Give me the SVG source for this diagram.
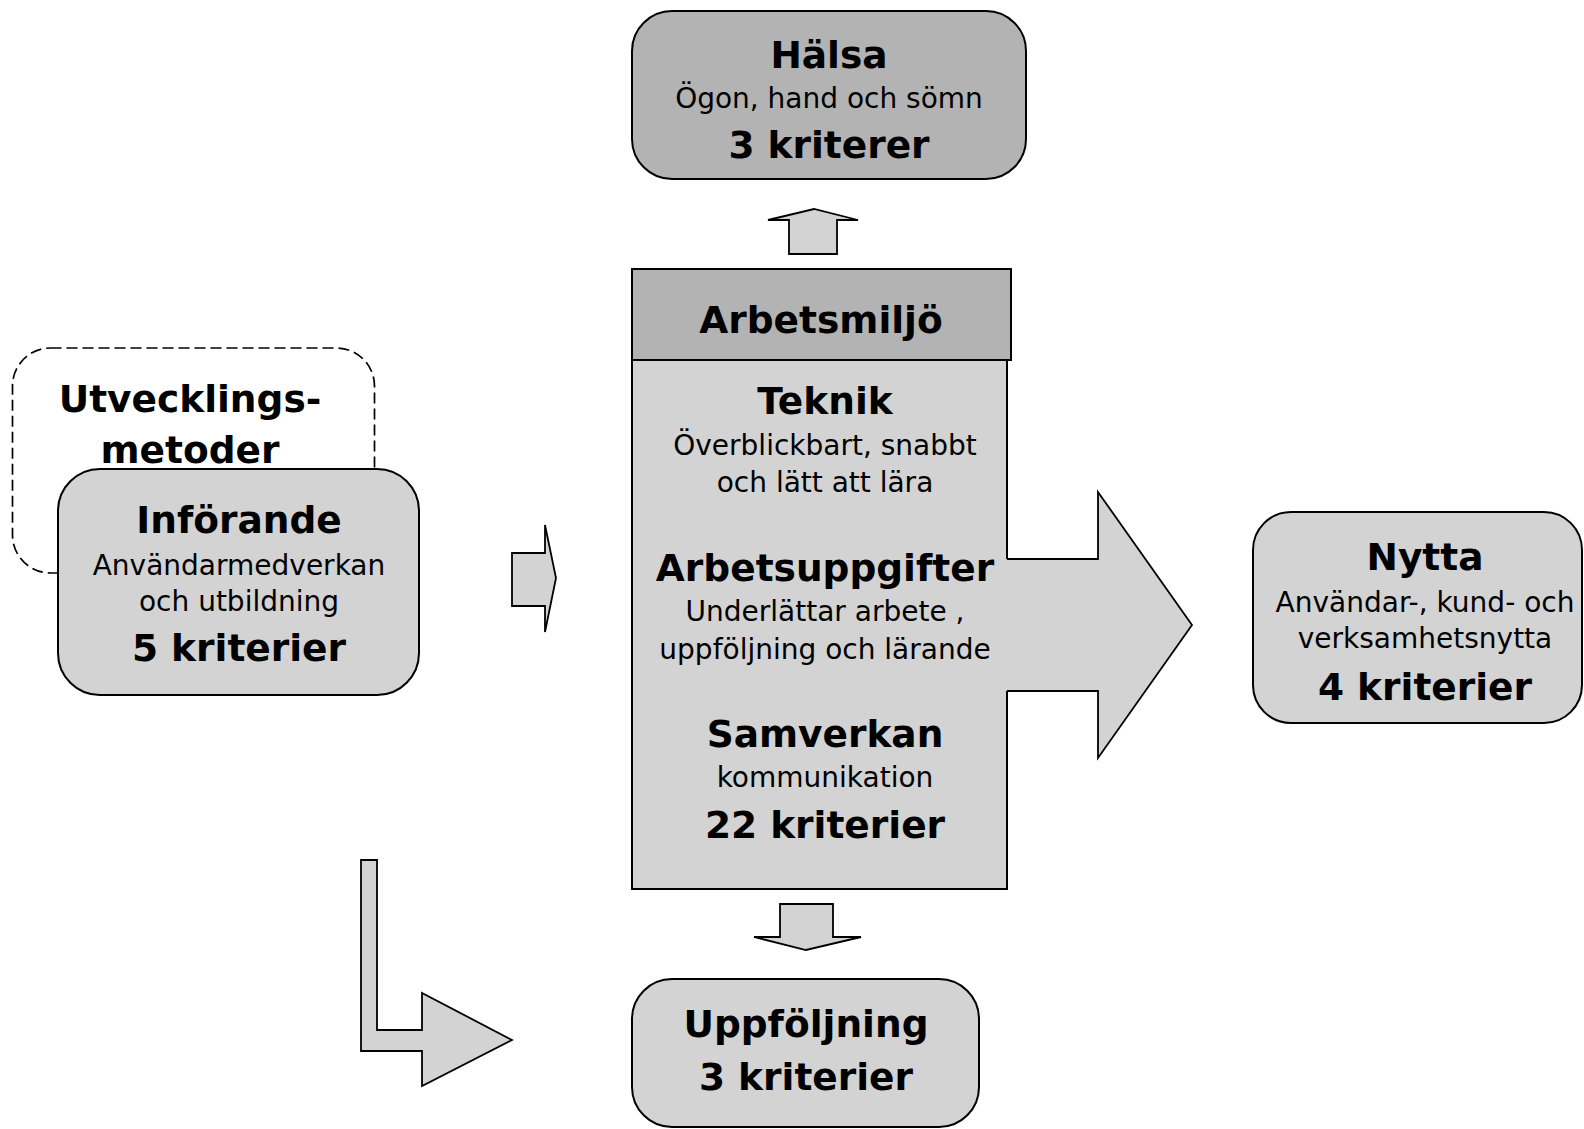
<svg xmlns="http://www.w3.org/2000/svg" width="1584" height="1129" viewBox="0 0 1584 1129">
<style>
.box{stroke:#000;stroke-width:2}
.light{fill:#d3d3d3}
.dark{fill:#b3b3b3}
.arrow{fill:#d3d3d3;stroke:#000;stroke-width:1.8;stroke-linejoin:miter}
.dash{fill:none;stroke:#000;stroke-width:1.7;stroke-dasharray:11 5}
.b{font-family:"DejaVu Sans","Liberation Sans",sans-serif;font-weight:bold;font-size:37.5px;text-anchor:middle;fill:#000}
.r{font-family:"DejaVu Sans","Liberation Sans",sans-serif;font-size:28px;text-anchor:middle;fill:#000}
</style>
<rect width="1584" height="1129" fill="#fff"/>

<g id="utvecklingsmetoder">
<rect class="dash" x="12.5" y="348" width="362" height="225" rx="38"/>
<text class="b" x="190" y="412">Utvecklings-</text>
<text class="b" x="190" y="463">metoder</text>
</g>

<g id="inforande">
<rect class="box light" x="58" y="469" width="361" height="226" rx="42"/>
<text class="b" x="239" y="533">Införande</text>
<text class="r" x="239" y="575">Användarmedverkan</text>
<text class="r" x="239" y="611">och utbildning</text>
<text class="b" x="239" y="661">5 kriterier</text>
</g>

<g id="halsa">
<rect class="box dark" x="632" y="11" width="394" height="168" rx="40"/>
<text class="b" x="829" y="68">Hälsa</text>
<text class="r" x="829" y="108">Ögon, hand och sömn</text>
<text class="b" x="829" y="158">3 kriterer</text>
</g>

<g id="arbetsmiljo">
<rect class="box light" x="632" y="360" width="375" height="529"/>
<rect class="box dark" x="632" y="269" width="379" height="91"/>
<text class="b" x="821" y="333">Arbetsmiljö</text>
<polygon fill="#d3d3d3" points="1004,559 1098,559 1098,492 1192,625 1098,758 1098,691 1004,691"/>
<path class="arrow" d="M1007,559 H1098 V492 L1192,625 L1098,758 V691 H1007" style="fill:none"/>
<text class="b" x="825" y="414">Teknik</text>
<text class="r" x="825" y="455">Överblickbart, snabbt</text>
<text class="r" x="825" y="492">och lätt att lära</text>
<text class="b" x="825" y="581">Arbetsuppgifter</text>
<text class="r" x="825" y="621">Underlättar arbete ,</text>
<text class="r" x="825" y="659">uppföljning och lärande</text>
<text class="b" x="825" y="747">Samverkan</text>
<text class="r" x="825" y="787">kommunikation</text>
<text class="b" x="825" y="838">22 kriterier</text>
</g>

<g id="nytta">
<rect class="box light" x="1253" y="512" width="329" height="211" rx="38"/>
<text class="b" x="1425" y="570">Nytta</text>
<text class="r" x="1425" y="612">Användar-, kund- och</text>
<text class="r" x="1425" y="648">verksamhetsnytta</text>
<text class="b" x="1425" y="700">4 kriterier</text>
</g>

<g id="uppfoljning">
<rect class="box light" x="632" y="979" width="347" height="148" rx="40"/>
<text class="b" x="806" y="1037">Uppföljning</text>
<text class="b" x="806" y="1090">3 kriterier</text>
</g>

<g id="connectors">
<polygon class="arrow" points="789,254 789,220 768,220 814,209 858,220 837,220 837,254"/>
<polygon class="arrow" points="780,904 833,904 833,937 861,937 806,950 754,937 780,937"/>
<polygon class="arrow" points="512,553 545,553 545,525 556,578 545,632 545,606 512,606"/>
<polygon class="arrow" points="361,860 377,860 377,1030 422,1030 422,993 512,1040 422,1086 422,1051 361,1051"/>
</g>
</svg>
